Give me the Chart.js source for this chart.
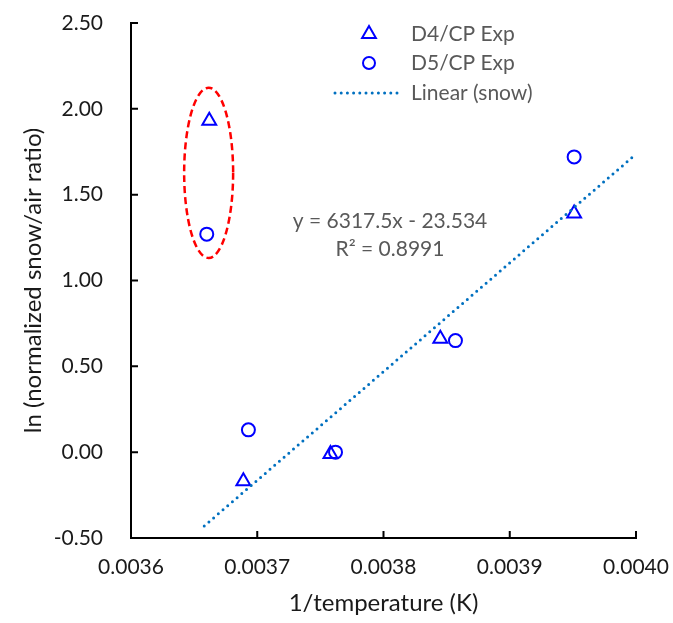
<!DOCTYPE html>
<html>
<head>
<meta charset="utf-8">
<script src="https://cdn.jsdelivr.net/npm/chart.js@4.4.1/dist/chart.umd.min.js"></script>
<style>
html, body { margin: 0; padding: 0; background: #fff; }
</style>
</head>
<body>
<canvas id="chart" width="673" height="623"></canvas>
<script>
// Values
const d4X = [0.003662, 0.003689, 0.003758, 0.003845, 0.003951];
const d4Y = [1.93, -0.17, -0.01, 0.66, 1.39];
const d5X = [0.003660, 0.003693, 0.003762, 0.003857, 0.003951];
const d5Y = [1.27, 0.13, 0.00, 0.65, 1.72];
const trendX = [0.003658, 0.0040];
const trendY = [-0.43, 1.736];
const xTicks = ['0.0036', '0.0037', '0.0038', '0.0039', '0.0040'];
const yTicks = ['-0.50', '0.00', '0.50', '1.00', '1.50', '2.00', '2.50'];
const legendLabels = ['D4/CP Exp', 'D5/CP Exp', 'Linear (snow)'];
const fitText = ['y = 6317.5x - 23.534', 'R\u00B2 = 0.8991'];
// outlier ring: centre x, centre y, half width, half height (data units)
const outlier = [0.0036615, 1.627, 0.0000194, 0.496];

const FONT = 'Lato, "Open Sans", sans-serif';
const GREY = '#595959';
const DARK = '#1a1a1a';
const BLUE = '#0000FF';
const TREND = '#0070C0';

function pairs(xs, ys) {
    return xs.map((v, i) => ({ x: v, y: ys[i] }));
}

// Draws inside tick marks, the red ring, the fit text and the legend
const overlay = {
    id: 'overlay',
    afterDraw(chart) {
        const { ctx, chartArea: a, scales: { x, y } } = chart;
        ctx.save();

        // tick marks pointing into the plot
        ctx.strokeStyle = '#000';
        ctx.lineWidth = 2;
        ctx.beginPath();
        xTicks.forEach(t => {
            const px = x.getPixelForValue(Number(t));
            ctx.moveTo(px, a.bottom);
            ctx.lineTo(px, a.bottom - 7);
        });
        yTicks.forEach(t => {
            const py = y.getPixelForValue(Number(t));
            ctx.moveTo(a.left, py);
            ctx.lineTo(a.left + 7, py);
        });
        ctx.stroke();

        // dashed ring round the two outliers
        const cx = x.getPixelForValue(outlier[0]);
        const cy = y.getPixelForValue(outlier[1]);
        const rx = x.getPixelForValue(outlier[0] + outlier[2]) - cx;
        const ry = cy - y.getPixelForValue(outlier[1] + outlier[3]);
        ctx.strokeStyle = '#FF0000';
        ctx.lineWidth = 2.5;
        ctx.setLineDash([7, 4]);
        ctx.beginPath();
        ctx.ellipse(cx, cy, rx, ry, 0, 0, Math.PI * 2);
        ctx.stroke();
        ctx.setLineDash([]);

        // trendline equation
        ctx.fillStyle = GREY;
        ctx.font = '21px ' + FONT;
        ctx.textAlign = 'center';
        ctx.textBaseline = 'middle';
        ctx.fillText(fitText[0], a.left + 259, a.top + 198);
        ctx.fillText(fitText[1], a.left + 259, a.top + 226);

        // legend
        const rows = [a.top + 11, a.top + 40, a.top + 70];
        const mx = a.left + 238;
        ctx.strokeStyle = BLUE;
        ctx.lineWidth = 2;
        ctx.beginPath();
        ctx.moveTo(mx, rows[0] - 8);
        ctx.lineTo(mx + 6.9, rows[0] + 4);
        ctx.lineTo(mx - 6.9, rows[0] + 4);
        ctx.closePath();
        ctx.stroke();
        ctx.beginPath();
        ctx.arc(mx, rows[1], 6, 0, Math.PI * 2);
        ctx.stroke();
        ctx.strokeStyle = TREND;
        ctx.lineWidth = 3;
        ctx.lineCap = 'round';
        ctx.setLineDash([0, 6.2]);
        ctx.beginPath();
        ctx.moveTo(mx - 34, rows[2]);
        ctx.lineTo(mx + 34, rows[2]);
        ctx.stroke();
        ctx.setLineDash([]);

        ctx.fillStyle = GREY;
        ctx.textAlign = 'left';
        legendLabels.forEach((t, i) => ctx.fillText(t, a.left + 280, rows[i]));
        ctx.restore();
    }
};

new Chart(document.getElementById('chart'), {
    type: 'scatter',
    data: {
        datasets: [
            {
                label: legendLabels[2],
                type: 'line',
                data: pairs(trendX, trendY),
                borderColor: TREND,
                borderWidth: 3,
                borderDash: [0, 6.2],
                borderCapStyle: 'round',
                pointRadius: 0,
                fill: false,
                order: 0
            },
            {
                label: legendLabels[0],
                data: pairs(d4X, d4Y),
                pointStyle: 'triangle',
                pointRadius: 8,
                pointBorderWidth: 2,
                pointBorderColor: BLUE,
                pointBackgroundColor: 'rgba(0,0,0,0)',
                order: 1
            },
            {
                label: legendLabels[1],
                data: pairs(d5X, d5Y),
                pointStyle: 'circle',
                pointRadius: 6.5,
                pointBorderWidth: 2,
                pointBorderColor: BLUE,
                pointBackgroundColor: 'rgba(0,0,0,0)',
                order: 2
            }
        ]
    },
    options: {
        responsive: false,
        animation: false,
        layout: { padding: { top: 23, right: 37, bottom: 0, left: 0 } },
        plugins: {
            legend: { display: false },
            tooltip: { enabled: false }
        },
        scales: {
            x: {
                type: 'linear',
                position: 'bottom',
                min: 0.0036,
                max: 0.0040,
                afterBuildTicks: s => { s.ticks = xTicks.map(t => ({ value: Number(t) })); },
                afterFit: s => { s.height = 85; s.paddingLeft = 0; s.paddingRight = 0; },
                grid: { display: false },
                border: { display: true, color: '#000', width: 2 },
                ticks: {
                    color: DARK,
                    font: { family: FONT, size: 21 },
                    padding: 9,
                    maxRotation: 0,
                    autoSkip: false,
                    callback: (v, i) => xTicks[i]
                },
                title: {
                    display: true,
                    text: '1/temperature (K)',
                    color: DARK,
                    font: { family: FONT, size: 24 },
                    padding: { top: 0, bottom: 5 }
                }
            },
            y: {
                type: 'linear',
                min: -0.5,
                max: 2.5,
                afterBuildTicks: s => { s.ticks = yTicks.map(t => ({ value: Number(t) })); },
                afterFit: s => { s.width = 131; s.paddingTop = 0; s.paddingBottom = 0; },
                grid: { display: false },
                border: { display: true, color: '#000', width: 2 },
                ticks: {
                    color: DARK,
                    font: { family: FONT, size: 21 },
                    padding: 20,
                    autoSkip: false,
                    callback: (v, i) => yTicks[i]
                },
                title: {
                    display: true,
                    text: 'ln (normalized snow/air ratio)',
                    color: DARK,
                    font: { family: FONT, size: 24 },
                    padding: { top: 19, bottom: 0 }
                }
            }
        }
    },
    plugins: [overlay]
});
</script>
</body>
</html>
